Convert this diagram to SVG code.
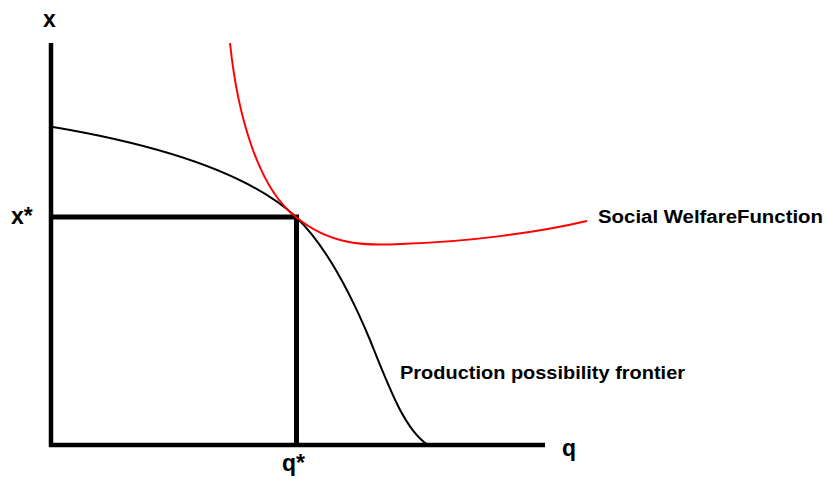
<svg xmlns="http://www.w3.org/2000/svg" width="827" height="479" viewBox="0 0 827 479">
<style>
.axis{stroke:#000;stroke-width:4.5;fill:none;stroke-linecap:butt}
.guide{stroke:#000;stroke-width:5;fill:none}
.ppf{stroke:#000;stroke-width:2;fill:none}
.swf{stroke:#ff0000;stroke-width:2;fill:none}
.ax{font-family:"Liberation Sans",Arial,sans-serif;font-weight:bold;font-size:23px;fill:#000}
.lbl{font-family:"Liberation Sans",Arial,sans-serif;font-weight:bold;font-size:18px;fill:#000}
</style>
<rect width="827" height="479" fill="#fff"/>
<g id="axes">
<line class="axis" x1="51" y1="43" x2="51" y2="447"/>
<line class="axis" x1="49" y1="445" x2="545" y2="445"/>
<text class="ax" x="43" y="27">x</text>
<text class="ax" x="562" y="456">q</text>
</g>
<g id="optimum">
<line class="guide" x1="51" y1="217" x2="299" y2="217"/>
<line class="guide" x1="296.5" y1="215" x2="296.5" y2="445"/>
<text class="ax" x="11" y="224">x*</text>
<text class="ax" x="282" y="471">q*</text>
</g>
<g id="ppf">
<path class="ppf" d="M53,127 C130,140 240,165 296,217 C320,240 345,280 370,340 C390,390 405,430 428,445"/>
<text class="lbl" x="400" y="379" textLength="285" lengthAdjust="spacingAndGlyphs">Production possibility frontier</text>
</g>
<g id="swf">
<path class="swf" d="M230,43 C238,120 260,190 296,217 C330,245 365,246 400,244 C470,242 540,232 587,221"/>
<text class="lbl" x="598" y="223" textLength="225" lengthAdjust="spacingAndGlyphs">Social WelfareFunction</text>
</g>
</svg>
